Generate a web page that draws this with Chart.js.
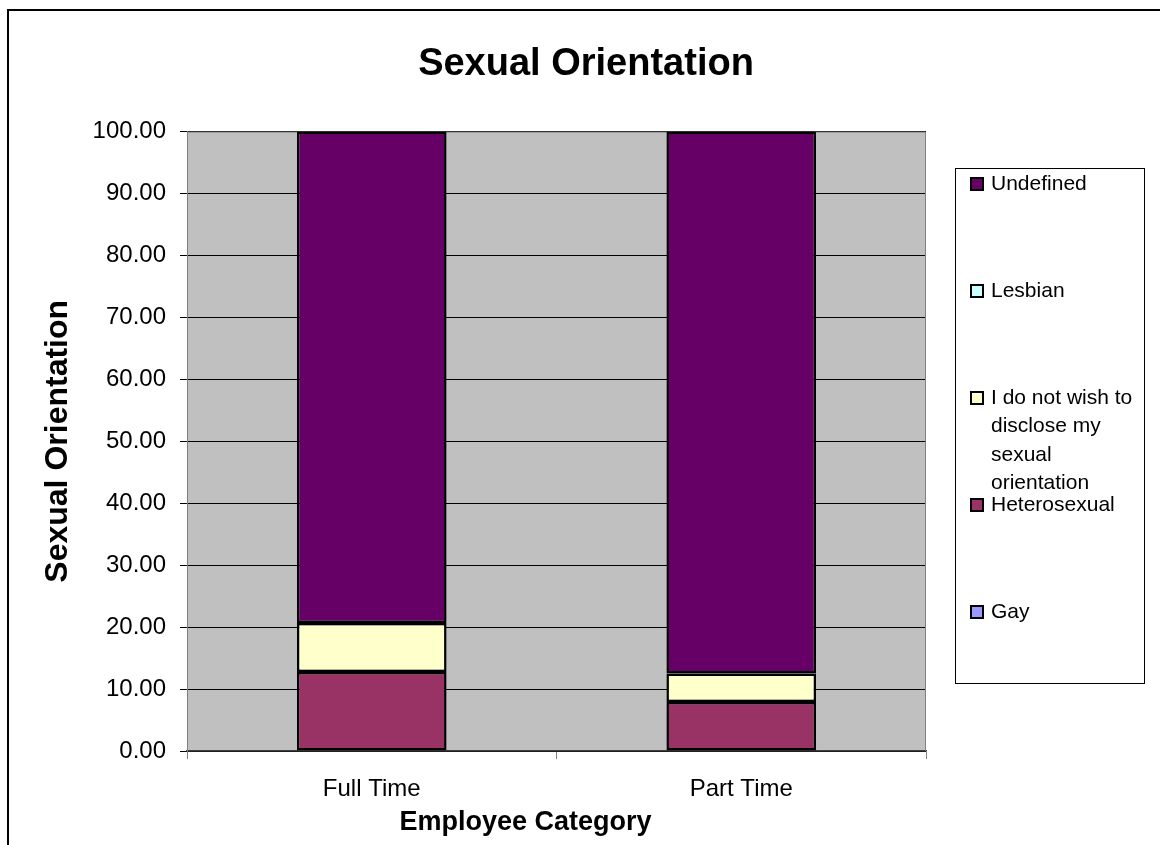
<!DOCTYPE html>
<html>
<head>
<meta charset="utf-8">
<title>Sexual Orientation</title>
<script src="https://cdn.jsdelivr.net/npm/chart.js@4/dist/chart.umd.min.js"></script>
<style>
  html, body { margin: 0; padding: 0; background: #ffffff; }
  #wrap { position: relative; width: 1160px; height: 845px; }
</style>
</head>
<body>
<div id="wrap"><canvas id="chart" width="1160" height="845"></canvas></div>
<script>
const CATEGORIES = ['Full Time', 'Part Time'];

// stacked bottom -> top
const GAY = [0, 0];
const HETEROSEXUAL = [12.76, 7.92];
const NOT_DISCLOSED = [7.92, 4.58];
const LESBIAN = [0, 0];
const UNDEFINED = [79.32, 87.5];

const SERIES_LABELS = ['Gay', 'Heterosexual', 'I do not wish to disclose my sexual orientation', 'Lesbian', 'Undefined'];
const SERIES_VALUES = [GAY, HETEROSEXUAL, NOT_DISCLOSED, LESBIAN, UNDEFINED];
const SERIES_COLORS = ['#9999ff', '#993366', '#ffffcc', '#ccffff', '#660066'];

const X_TITLE = 'Employee Category';
const FONT = '"Liberation Sans", Arial, sans-serif';

// grey plot area with its thin border, and the outer frame
const plotArea = {
  id: 'plotArea',
  beforeDraw(chart) {
    const { ctx, chartArea: a } = chart;
    ctx.save();
    ctx.fillStyle = '#c0c0c0';
    ctx.fillRect(a.left, a.top, a.right - a.left, a.bottom - a.top);
    ctx.strokeStyle = '#000000';
    ctx.lineWidth = 2;
    ctx.beginPath();
    ctx.moveTo(8, 845);
    ctx.lineTo(8, 10);
    ctx.lineTo(1160, 10);
    ctx.stroke();
    ctx.restore();
  },
  beforeDatasetsDraw(chart) {
    const { ctx, chartArea: a } = chart;
    ctx.save();
    ctx.strokeStyle = '#808080';
    ctx.lineWidth = 1;
    ctx.beginPath();
    ctx.moveTo(a.left + 0.5, a.bottom);
    ctx.lineTo(a.left + 0.5, a.top + 0.5);
    ctx.lineTo(a.right - 0.5, a.top + 0.5);
    ctx.lineTo(a.right - 0.5, a.bottom);
    ctx.stroke();
    ctx.restore();
  },
  afterDraw(chart) {
    // x axis title sits a little left of the plot centre in the original
    const { ctx, chartArea: a } = chart;
    ctx.save();
    ctx.font = `bold 27px ${FONT}`;
    ctx.fillStyle = '#000000';
    ctx.textAlign = 'center';
    ctx.textBaseline = 'middle';
    ctx.fillText(X_TITLE, (a.left + a.right) / 2 - 31, 823);
    ctx.restore();
  }
};

function wrapText(ctx, text, maxWidth) {
  const words = text.split(' ');
  const lines = [];
  let line = '';
  words.forEach((word) => {
    const test = line ? `${line} ${word}` : word;
    if (line && ctx.measureText(test).width > maxWidth) {
      lines.push(line);
      line = word;
    } else {
      line = test;
    }
  });
  if (line) lines.push(line);
  return lines;
}

// Excel-style legend box on the right, top item = last series
const boxLegend = {
  id: 'boxLegend',
  afterDraw(chart) {
    const { ctx } = chart;
    const box = { left: 955.5, top: 168.5, right: 1144.5, bottom: 683.5 };
    ctx.save();
    ctx.strokeStyle = '#000000';
    ctx.lineWidth = 1;
    ctx.strokeRect(box.left, box.top, box.right - box.left, box.bottom - box.top);

    ctx.font = `21px ${FONT}`;
    ctx.textBaseline = 'middle';
    ctx.textAlign = 'left';
    const datasets = chart.data.datasets.slice().reverse();
    datasets.forEach((ds, i) => {
      const y = 184 + i * 107;
      ctx.fillStyle = ds.backgroundColor;
      ctx.fillRect(971, y - 6, 12, 12);
      ctx.strokeStyle = '#000000';
      ctx.lineWidth = 2;
      ctx.strokeRect(971, y - 6, 12, 12);
      ctx.fillStyle = '#000000';
      wrapText(ctx, ds.label, 150).forEach((line, k) => {
        ctx.fillText(line, 991, y + k * 28.5);
      });
    });
    ctx.restore();
  }
};

new Chart(document.getElementById('chart'), {
  type: 'bar',
  data: {
    labels: CATEGORIES,
    datasets: SERIES_LABELS.map((label, i) => ({
      label,
      data: SERIES_VALUES[i],
      backgroundColor: SERIES_COLORS[i],
      borderColor: '#000000',
      borderWidth: 2.5,
      borderSkipped: false,
      categoryPercentage: 1,
      barPercentage: 0.405
    }))
  },
  options: {
    responsive: false,
    animation: false,
    layout: { padding: { left: 12, right: 0, top: 0, bottom: 0 } },
    plugins: {
      legend: { display: false },
      tooltip: { enabled: false },
      title: {
        display: true,
        text: 'Sexual Orientation',
        color: '#000000',
        font: { family: FONT, size: 38, weight: 'bold', lineHeight: 1.2 },
        padding: { top: 42, bottom: 44 }
      }
    },
    scales: {
      x: {
        stacked: true,
        grid: {
          display: true,
          drawOnChartArea: false,
          drawTicks: true,
          tickLength: 8,
          offset: true,
          color: '#808080'
        },
        border: { display: true, color: '#404040', width: 1.5 },
        ticks: { color: '#000000', font: { family: FONT, size: 24 }, padding: 16 },
        afterFit: (scale) => { scale.height = 94; }
      },
      y: {
        stacked: true,
        min: 0,
        max: 100,
        grid: { color: '#000000', lineWidth: 1, tickLength: 7, drawTicks: true },
        border: { display: true, color: '#808080', width: 1 },
        ticks: {
          stepSize: 10,
          padding: 14,
          color: '#000000',
          font: { family: FONT, size: 24 },
          callback: (value) => Number(value).toFixed(2)
        },
        title: {
          display: true,
          text: 'Sexual Orientation',
          color: '#000000',
          font: { family: FONT, size: 32, weight: 'bold', lineHeight: 1.2 },
          padding: { top: 27, bottom: 0 }
        },
        afterFit: (scale) => { scale.width = 175; }
      },
      legendSpace: {
        type: 'linear',
        position: 'right',
        display: true,
        grid: { display: false },
        border: { display: false },
        ticks: { display: false },
        afterFit: (scale) => { scale.width = 234; }
      }
    }
  },
  plugins: [plotArea, boxLegend]
});
</script>
</body>
</html>
